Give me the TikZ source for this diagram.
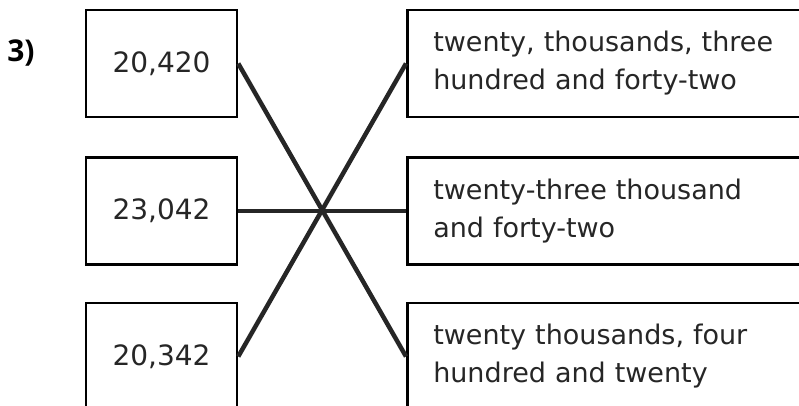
\documentclass[tikz,border=0pt]{standalone}
\usepackage{fontspec}
\setmainfont{DejaVu Sans}
\newfontfamily\labelfont{Open Sans}
\usepackage{xcolor}
\usepackage{tikz}

\begin{document}
\begin{tikzpicture}[x=1pt,y=1pt,
    numbox/.style={draw=black, line width=2.5pt, minimum width=151pt, minimum height=107pt, inner sep=0pt, text=black!85, font=\fontsize{28}{34}\selectfont},
    wordbox/.style={draw=black, line width=2.5pt, anchor=west, minimum height=107pt, text width=380pt, inner xsep=26pt, align=left, text=black!85, font=\fontsize{27}{38}\selectfont},
    link/.style={line width=4.5pt, draw=black!85}]
\clip (0,0) rectangle (799,-406);

    \node[text=black, font=\labelfont\bfseries\fontsize{30}{36}\selectfont] (q) at (21,-53) {3)};

    \node[numbox] (x1) at (161.5,-63.5) {20,420};
    \node[numbox] (x2) at (161.5,-211) {23,042};
    \node[numbox] (x3) at (161.5,-356.5) {20,342};
    \node[wordbox] (y1) at (406,-63.5) {twenty, thousands, three\\hundred and forty-two};
    \node[wordbox] (y2) at (406,-211) {twenty-three thousand\\and forty-two};
    \node[wordbox] (y3) at (406,-356.5) {twenty thousands, four\\hundred and twenty};

    % draw the lines
    \draw[link] (x1.east) -- (y3.west);
    \draw[link] (x2.east) -- (y2.west);
    \draw[link] (x3.east) -- (y1.west);

\end{tikzpicture}
\end{document}
